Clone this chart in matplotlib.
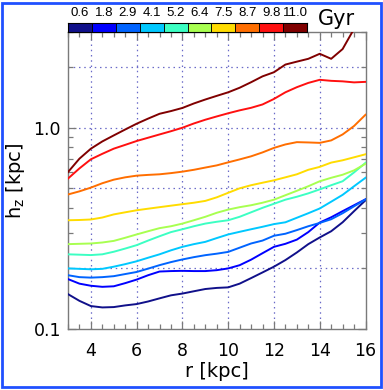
"""
Disc scale height h_z vs radius, one line per stellar age bin
"""
import matplotlib
matplotlib.use("Agg")
import matplotlib.pyplot as plt
import matplotlib.ticker as mticker
from matplotlib.patches import Rectangle
import numpy as np

# ── data ──
r_kpc = np.arange(3.0, 16.01, 0.5)

age_labels = ["0.6", "1.8", "2.9", "4.1", "5.2", "6.4", "7.5", "8.7", "9.8", "11.0"]
age_colors = ["#10108a", "#0000ff", "#0064ff", "#00c8ff", "#3cffc3",
              "#a8ff50", "#ffdc00", "#ff6e00", "#ff1010", "#800000"]

hz_06 = [0.149, 0.138, 0.130, 0.128, 0.1285, 0.131, 0.133, 0.137, 0.142, 0.147,
         0.150, 0.154, 0.158, 0.160, 0.161, 0.168, 0.179, 0.191, 0.204, 0.220,
         0.240, 0.264, 0.285, 0.306, 0.339, 0.385, 0.436]
hz_18 = [0.177, 0.168, 0.164, 0.162, 0.163, 0.169, 0.176, 0.185, 0.193, 0.194,
         0.1945, 0.194, 0.194, 0.196, 0.200, 0.2075, 0.221, 0.238, 0.256, 0.265,
         0.278, 0.303, 0.338, 0.359, 0.385, 0.412, 0.441]
hz_29 = [0.185, 0.181, 0.180, 0.181, 0.183, 0.1875, 0.192, 0.1995, 0.2076, 0.215,
         0.2216, 0.2275, 0.2327, 0.2367, 0.2416, 0.2535, 0.266, 0.275, 0.2906, 0.2974,
         0.310, 0.324, 0.3365, 0.351, 0.376, 0.407, 0.440]
hz_41 = [0.200, 0.199, 0.198, 0.199, 0.204, 0.210, 0.217, 0.226, 0.235, 0.246,
         0.256, 0.264, 0.271, 0.283, 0.295, 0.304, 0.313, 0.322, 0.332, 0.339,
         0.357, 0.376, 0.397, 0.429, 0.464, 0.512, 0.564]
hz_52 = [0.235, 0.234, 0.233, 0.235, 0.242, 0.251, 0.261, 0.275, 0.289, 0.303,
         0.313, 0.324, 0.334, 0.341, 0.347, 0.361, 0.380, 0.400, 0.419, 0.439,
         0.454, 0.472, 0.494, 0.518, 0.542, 0.600, 0.669]
hz_64 = [0.264, 0.265, 0.266, 0.269, 0.274, 0.284, 0.295, 0.306, 0.317, 0.324,
         0.334, 0.347, 0.361, 0.378, 0.392, 0.403, 0.412, 0.424, 0.439, 0.462,
         0.486, 0.512, 0.542, 0.564, 0.584, 0.614, 0.662]
hz_75 = [0.347, 0.348, 0.350, 0.358, 0.371, 0.380, 0.389, 0.396, 0.403, 0.410,
         0.417, 0.424, 0.433, 0.451, 0.475, 0.500, 0.518, 0.533, 0.548, 0.567,
         0.587, 0.618, 0.639, 0.671, 0.689, 0.713, 0.738]
hz_87 = [0.466, 0.483, 0.504, 0.530, 0.552, 0.567, 0.578, 0.583, 0.587, 0.595,
         0.605, 0.618, 0.634, 0.650, 0.673, 0.696, 0.721, 0.754, 0.794, 0.826,
         0.848, 0.845, 0.841, 0.865, 0.926, 1.02, 1.16]
hz_98 = [0.559, 0.628, 0.697, 0.742, 0.787, 0.822, 0.859, 0.892, 0.926, 0.961,
         1.00, 1.05, 1.096, 1.138, 1.18, 1.22, 1.256, 1.305, 1.39, 1.50,
         1.59, 1.67, 1.73, 1.71, 1.70, 1.68, 1.69]
hz_110 = [0.602, 0.702, 0.787, 0.855, 0.916, 0.98, 1.047, 1.11, 1.173, 1.21,
          1.254, 1.32, 1.381, 1.44, 1.50, 1.58, 1.683, 1.80, 1.887, 2.06,
          2.13, 2.20, 2.33, 2.20, 2.46, 3.1, 3.8]

hz_all = [hz_06, hz_18, hz_29, hz_41, hz_52, hz_64, hz_75, hz_87, hz_98, hz_110]

GRID_BLUE = "#6a6ac8"
SPINE_GREY = "#7a7a7a"

fig = plt.figure(figsize=(3.83, 3.90), dpi=100)
ax = fig.add_axes([68 / 383, 61 / 390, 297.5 / 383, 297.3 / 390])

for hz, col in zip(hz_all, age_colors):
    ax.plot(r_kpc, hz, color=col, linewidth=1.4, zorder=3)

ax.set_xlim(3, 16)
ax.set_yscale("log")
ax.set_ylim(0.1, 3.0)

ax.xaxis.set_major_locator(mticker.FixedLocator([4, 6, 8, 10, 12, 14, 16]))
ax.xaxis.set_minor_locator(mticker.MultipleLocator(0.5))
ax.yaxis.set_major_locator(mticker.FixedLocator([0.1, 1.0]))
ax.yaxis.set_major_formatter(mticker.FixedFormatter(["0.1", "1.0"]))
ax.yaxis.set_minor_locator(mticker.LogLocator(subs=np.arange(2, 10)))
ax.yaxis.set_minor_formatter(mticker.NullFormatter())

ax.tick_params(which="both", direction="in", top=True, right=True,
               color=SPINE_GREY, labelsize=12.5)
ax.tick_params(which="major", length=6, width=0.9)
ax.tick_params(which="minor", length=3.5, width=0.9)
ax.tick_params(axis="x", which="major", pad=9)
ax.tick_params(axis="y", which="major", pad=5)
for s in ax.spines.values():
    s.set_color(SPINE_GREY)
    s.set_linewidth(1.0)

# dotted grid
for xv in [4, 6, 8, 10, 12, 14]:
    ax.axvline(xv, color=GRID_BLUE, linestyle=(0, (1.2, 3)), linewidth=0.9, zorder=1)
for yv in [0.2, 0.5, 1.0, 2.0]:
    ax.axhline(yv, color=GRID_BLUE, linestyle=(0, (1.2, 3)), linewidth=0.9, zorder=1)

ax.set_xlabel("r [kpc]", fontsize=14, labelpad=2)
ax.set_ylabel(r"h$_\mathregular{z}$ [kpc]", fontsize=14, labelpad=5)

# ── discrete age colour bar on top ──
cax = fig.add_axes([68 / 383, 358.3 / 390, 239 / 383, 9 / 390])
cax.bar(np.arange(len(age_labels)), 1, width=1.0, color=age_colors,
        edgecolor="black", linewidth=0.6, align="center")
cax.set_xlim(-0.5, len(age_labels) - 0.5)
cax.set_ylim(0, 1)
cax.set_yticks([])
cax.xaxis.tick_top()
cax.set_xticks(np.arange(len(age_labels)))
cax.set_xticklabels(age_labels, fontsize=9.5, family="Liberation Sans")
cax.tick_params(axis="x", length=0, pad=3)
for s in cax.spines.values():
    s.set_color("black")
    s.set_linewidth(0.8)

fig.text(336 / 383, 1 - 19 / 390, "Gyr", fontsize=15, ha="center", va="center")

# blue outer frame
fig.patches.append(Rectangle((2 / 383, 3 / 390), 378.5 / 383, 384.5 / 390,
                             transform=fig.transFigure, fill=False,
                             edgecolor="#2050ff", linewidth=2.0))

fig.savefig("out.png", dpi=100, facecolor="white")
plt.close()
